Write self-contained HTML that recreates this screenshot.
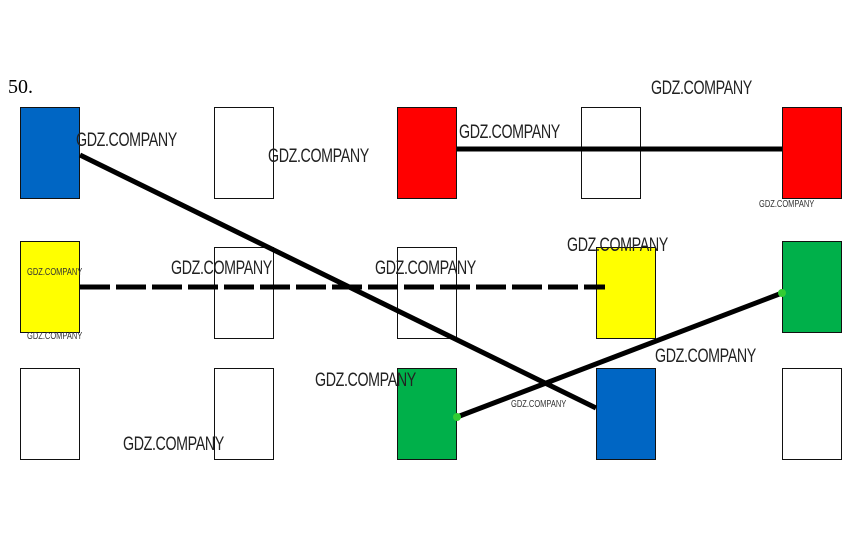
<!DOCTYPE html>
<html><head><style>
body{margin:0;background:#fff;width:850px;height:560px;overflow:hidden;position:relative;font-family:"Liberation Sans",sans-serif}
.r{position:absolute;width:58px;height:90px;border:1px solid #111;box-sizing:content-box}
.t{position:absolute;font-size:19px;color:#222;transform:scaleX(0.75);transform-origin:0 0;white-space:nowrap;letter-spacing:-0.5px}
.s{position:absolute;font-size:10px;color:#333;transform:scaleX(0.75);transform-origin:0 0;white-space:nowrap}
</style></head><body>
<div style="position:absolute;left:8px;top:76px;font-family:'Liberation Serif',serif;font-size:20px">50.</div>
<div class="r" style="left:20px;top:107px;background:#0066c4"></div>
<div class="r" style="left:214px;top:107px"></div>
<div class="r" style="left:397px;top:107px;background:#ff0000"></div>
<div class="r" style="left:581px;top:107px"></div>
<div class="r" style="left:782px;top:107px;background:#ff0000"></div>
<div class="r" style="left:20px;top:241px;background:#ffff00"></div>
<div class="r" style="left:214px;top:247px"></div>
<div class="r" style="left:397px;top:247px"></div>
<div class="r" style="left:596px;top:247px;background:#ffff00"></div>
<div class="r" style="left:782px;top:241px;background:#00b04a"></div>
<div class="r" style="left:20px;top:368px"></div>
<div class="r" style="left:214px;top:368px"></div>
<div class="r" style="left:397px;top:368px;background:#00b04a"></div>
<div class="r" style="left:596px;top:368px;background:#0066c4"></div>
<div class="r" style="left:782px;top:368px"></div>
<svg width="850" height="560" style="position:absolute;left:0;top:0">
<line x1="80" y1="155" x2="596" y2="408" stroke="#000" stroke-width="5"/>
<line x1="457" y1="149" x2="782" y2="149" stroke="#000" stroke-width="5"/>
<line x1="80" y1="287" x2="605" y2="287" stroke="#000" stroke-width="5" stroke-dasharray="30,6"/>
<line x1="457" y1="417" x2="782" y2="293" stroke="#000" stroke-width="5"/>
<circle cx="457" cy="417" r="4" fill="#3c3"/>
<circle cx="782" cy="293" r="4" fill="#3c3"/>
</svg>
<div class="t" style="left:76px;top:130px">GDZ.COMPANY</div>
<div class="t" style="left:268px;top:146px">GDZ.COMPANY</div>
<div class="t" style="left:459px;top:122px">GDZ.COMPANY</div>
<div class="t" style="left:651px;top:78px">GDZ.COMPANY</div>
<div class="t" style="left:171px;top:258px">GDZ.COMPANY</div>
<div class="t" style="left:375px;top:258px">GDZ.COMPANY</div>
<div class="t" style="left:567px;top:235px">GDZ.COMPANY</div>
<div class="t" style="left:655px;top:346px">GDZ.COMPANY</div>
<div class="t" style="left:315px;top:370px">GDZ.COMPANY</div>
<div class="t" style="left:123px;top:434px">GDZ.COMPANY</div>
<div class="s" style="left:27px;top:267px">GDZ.COMPANY</div>
<div class="s" style="left:27px;top:331px">GDZ.COMPANY</div>
<div class="s" style="left:759px;top:199px">GDZ.COMPANY</div>
<div class="s" style="left:511px;top:399px">GDZ.COMPANY</div>
</body></html>
